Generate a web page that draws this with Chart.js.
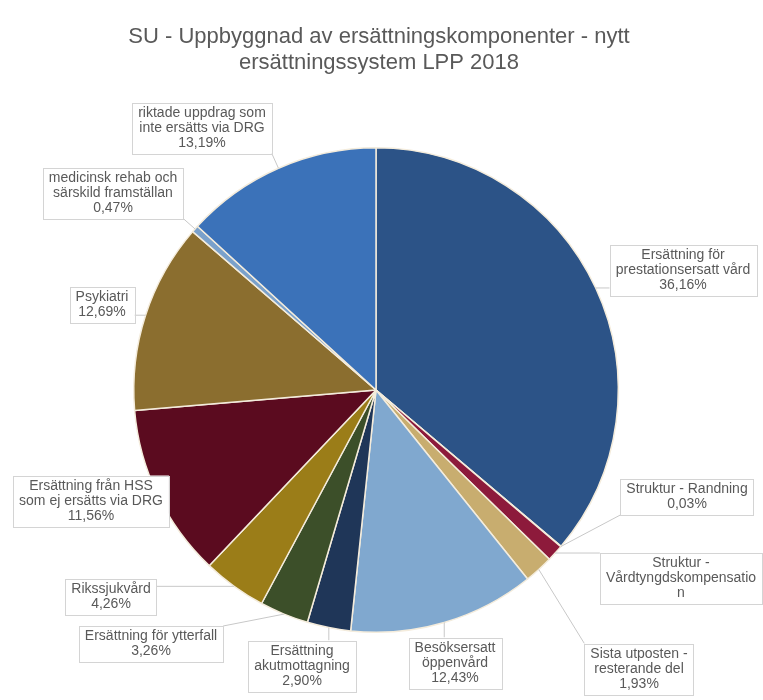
<!DOCTYPE html>
<html lang="sv">
<head>
    <meta charset="UTF-8">
    <title>SU - Uppbyggnad av ersättningskomponenter</title>
    <script src="https://cdn.jsdelivr.net/npm/chart.js"></script>
    <style>
        html, body { margin: 0; padding: 0; background: #fff; }
    </style>
</head>
<body>
<canvas id="pieChart" width="763" height="700"></canvas>
<script>
    // titel
    const titelRader = ['SU - Uppbyggnad av ersättningskomponenter - nytt', 'ersättningssystem LPP 2018'];

    // komponenter medurs från kl 12
    const komponenter = [
        ['Ersättning för', 'prestationsersatt vård'],
        ['Struktur - Randning'],
        ['Struktur -', 'Vårdtyngdskompensatio', 'n'],
        ['Sista utposten -', 'resterande del'],
        ['Besöksersatt', 'öppenvård'],
        ['Ersättning', 'akutmottagning'],
        ['Ersättning för ytterfall'],
        ['Rikssjukvård'],
        ['Ersättning från HSS', 'som ej ersätts via DRG'],
        ['Psykiatri'],
        ['medicinsk rehab och', 'särskild framställan'],
        ['riktade uppdrag som', 'inte ersätts via DRG']
    ];
    const andelar = [36.16, 0.03, 1.12, 1.93, 12.43, 2.90, 3.26, 4.26, 11.56, 12.69, 0.47, 13.19];
    // procenten syns inte för vårdtyngd (avklippt i originalet)
    const visaProcent = [true, true, false, true, true, true, true, true, true, true, true, true];

    const farger = ['#2c5387', '#c9c2b0', '#8d1a3b', '#c8ad6f', '#80a8cf', '#1f3658', '#3c4f29',
                    '#9b7d18', '#5b0b1f', '#8b6e2f', '#7aa1cb', '#3b72b9'];

    // var etikettrutorna står (mittpunkt)
    const rutor = [[683, 270], [687, 497], [681, 578], [639, 669], [455, 663], [302, 666],
                   [151, 644], [111, 597], [91, 501], [102, 305], [113, 193], [202, 128]];

    function procent(v) {
        return v.toFixed(2).replace('.', ',') + '%';
    }

    // ritar titel, etikettrutor och linjer
    const etikettPlugin = {
        id: 'etiketter',
        afterDraw(chart) {
            const ctx = chart.ctx;
            const meta = chart.getDatasetMeta(0);
            ctx.save();
            ctx.fillStyle = '#595959';
            ctx.textAlign = 'center';
            ctx.textBaseline = 'middle';
            ctx.font = '22px "Liberation Sans", Arial, sans-serif';
            ctx.fillText(titelRader[0], 379, 37);
            ctx.fillText(titelRader[1], 379, 63);

            ctx.font = '14px "Liberation Sans", Arial, sans-serif';
            meta.data.forEach((arc, i) => {
                const p = arc.getProps(['x', 'y', 'startAngle', 'endAngle', 'outerRadius'], true);
                const mid = (p.startAngle + p.endAngle) / 2;
                const ax = p.x + Math.cos(mid) * p.outerRadius;
                const ay = p.y + Math.sin(mid) * p.outerRadius;

                const rader = komponenter[i].slice();
                if (visaProcent[i]) rader.push(procent(andelar[i]));
                const w = Math.max(...rader.map(r => ctx.measureText(r).width)) + 12;
                const h = rader.length * 15 + 6;
                const bx = rutor[i][0] - w / 2;
                const by = rutor[i][1] - h / 2;

                // linje till närmaste punkt på rutan
                const nx = Math.min(Math.max(ax, bx), bx + w);
                const ny = Math.min(Math.max(ay, by), by + h);
                ctx.strokeStyle = '#c8c8c8';
                ctx.lineWidth = 1;
                ctx.beginPath();
                ctx.moveTo(ax, ay);
                ctx.lineTo(nx, ny);
                ctx.stroke();

                ctx.fillStyle = '#ffffff';
                ctx.fillRect(bx, by, w, h);
                ctx.strokeStyle = '#d4d4d4';
                ctx.strokeRect(Math.round(bx) + 0.5, Math.round(by) + 0.5, Math.round(w), Math.round(h));

                ctx.fillStyle = '#595959';
                rader.forEach((r, j) => {
                    ctx.fillText(r, rutor[i][0], by + 3 + 7.5 + j * 15);
                });
            });
            ctx.restore();
        }
    };

    const ctx = document.getElementById('pieChart').getContext('2d');
    new Chart(ctx, {
        type: 'pie',
        data: {
            labels: komponenter.map(k => k.join(' ')),
            datasets: [{
                data: andelar,
                backgroundColor: farger,
                borderColor: '#f4ecdc',
                borderWidth: 1.5
            }]
        },
        options: {
            responsive: false,
            animation: false,
            layout: { padding: { top: 147, bottom: 67, left: 0, right: 11 } },
            plugins: {
                legend: { display: false },
                tooltip: { enabled: false }
            }
        },
        plugins: [etikettPlugin]
    });
</script>
</body>
</html>
